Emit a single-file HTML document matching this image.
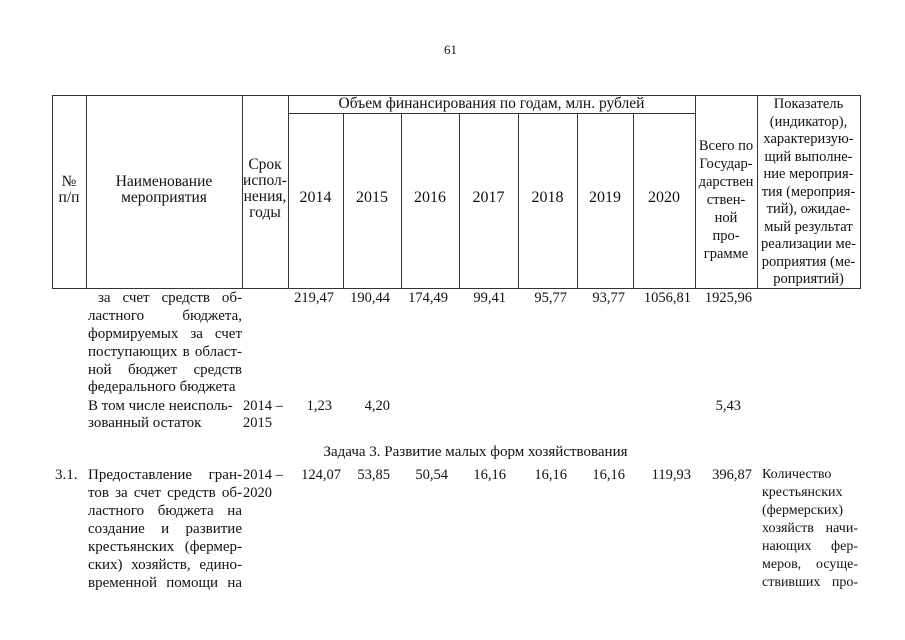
<!DOCTYPE html>
<html><head><meta charset="utf-8"><style>
body{margin:0;background:#fff;}
#p{position:relative;width:905px;height:640px;overflow:hidden;background:#fff;font-family:"Liberation Serif","DejaVu Serif",serif;font-size:15px;color:#111;}
.l{position:absolute;background:#333;}
.t{position:absolute;white-space:nowrap;line-height:16px;}
.c{text-align:center;}
.j{text-align:justify;text-align-last:justify;white-space:normal;}
.r{text-align:right;}
.n{font-size:14.5px;}
.h{font-size:15.5px;}
.y{font-size:16px;}
.k{font-size:14px;}
</style></head><body><div id="p">
<div class="t" style="left:444px;top:42px;font-size:13px">61</div>
<div class="l" style="left:52px;top:95px;width:808px;height:1px"></div>
<div class="l" style="left:288px;top:113px;width:407px;height:1px"></div>
<div class="l" style="left:52px;top:288px;width:808px;height:1px"></div>
<div class="l" style="left:52px;top:95px;width:1px;height:194px"></div>
<div class="l" style="left:86px;top:95px;width:1px;height:194px"></div>
<div class="l" style="left:242px;top:95px;width:1px;height:194px"></div>
<div class="l" style="left:288px;top:95px;width:1px;height:194px"></div>
<div class="l" style="left:343px;top:113px;width:1px;height:176px"></div>
<div class="l" style="left:401px;top:113px;width:1px;height:176px"></div>
<div class="l" style="left:459px;top:113px;width:1px;height:176px"></div>
<div class="l" style="left:518px;top:113px;width:1px;height:176px"></div>
<div class="l" style="left:577px;top:113px;width:1px;height:176px"></div>
<div class="l" style="left:633px;top:113px;width:1px;height:176px"></div>
<div class="l" style="left:695px;top:95px;width:1px;height:194px"></div>
<div class="l" style="left:757px;top:95px;width:1px;height:194px"></div>
<div class="l" style="left:860px;top:95px;width:1px;height:194px"></div>
<div class="t c h" style="left:52px;width:34px;top:174px">№</div>
<div class="t c h" style="left:52px;width:34px;top:190px">п/п</div>
<div class="t c h" style="left:86px;width:156px;top:174px">Наименование</div>
<div class="t c h" style="left:86px;width:156px;top:190px">мероприятия</div>
<div class="t c h" style="left:242px;width:46px;top:157px">Срок</div>
<div class="t c h" style="left:242px;width:46px;top:173px">испол-</div>
<div class="t c h" style="left:242px;width:46px;top:189px">нения,</div>
<div class="t c h" style="left:242px;width:46px;top:205px">годы</div>
<div class="t c h" style="left:288px;width:407px;top:96px">Объем финансирования по годам, млн. рублей</div>
<div class="t c y" style="left:288px;width:55px;top:190px">2014</div>
<div class="t c y" style="left:343px;width:58px;top:190px">2015</div>
<div class="t c y" style="left:401px;width:58px;top:190px">2016</div>
<div class="t c y" style="left:459px;width:59px;top:190px">2017</div>
<div class="t c y" style="left:518px;width:59px;top:190px">2018</div>
<div class="t c y" style="left:577px;width:56px;top:190px">2019</div>
<div class="t c y" style="left:633px;width:62px;top:190px">2020</div>
<div class="t c" style="left:695px;width:62px;top:137px;line-height:18px;font-size:14.5px">Всего по<br>Государ-<br>дарствен<br>ствен-<br>ной<br>про-<br>грамме</div>
<div class="t c" style="left:757px;width:103px;top:96px;line-height:17.5px;font-size:14.5px">Показатель<br>(индикатор),<br>характеризую-<br>щий выполне-<br>ние мероприя-<br>тия (мероприя-<br>тий), ожидае-<br>мый результат<br>реализации ме-<br>роприятия (ме-<br>роприятий)</div>
<div class="t j" style="left:98px;width:144px;top:290px">за счет средств об-</div>
<div class="t j" style="left:88px;width:154px;top:308px">ластного бюджета,</div>
<div class="t j" style="left:88px;width:154px;top:326px">формируемых за счет</div>
<div class="t j" style="left:88px;width:154px;top:344px">поступающих в област-</div>
<div class="t j" style="left:88px;width:154px;top:362px">ной бюджет средств</div>
<div class="t" style="left:88px;top:379px">федерального бюджета</div>
<div class="t r n" style="left:288px;width:46px;top:290px">219,47</div>
<div class="t r n" style="left:343px;width:47px;top:290px">190,44</div>
<div class="t r n" style="left:401px;width:47px;top:290px">174,49</div>
<div class="t r n" style="left:459px;width:47px;top:290px">99,41</div>
<div class="t r n" style="left:518px;width:49px;top:290px">95,77</div>
<div class="t r n" style="left:577px;width:48px;top:290px">93,77</div>
<div class="t r n" style="left:633px;width:58px;top:290px">1056,81</div>
<div class="t r n" style="left:695px;width:57px;top:290px">1925,96</div>
<div class="t" style="left:88px;top:398px">В том числе неисполь-</div>
<div class="t" style="left:88px;top:415px">зованный остаток</div>
<div class="t n" style="left:243px;top:398px">2014 –</div>
<div class="t n" style="left:243px;top:415px">2015</div>
<div class="t r n" style="left:288px;width:44px;top:398px">1,23</div>
<div class="t r n" style="left:343px;width:47px;top:398px">4,20</div>
<div class="t r n" style="left:695px;width:46px;top:398px">5,43</div>
<div class="t c" style="left:288px;width:375px;top:444px">Задача 3. Развитие малых форм хозяйствования</div>
<div class="t" style="left:55px;top:467px">3.1.</div>
<div class="t j" style="left:88px;width:154px;top:467px">Предоставление гран-</div>
<div class="t j" style="left:88px;width:154px;top:485px">тов за счет средств об-</div>
<div class="t j" style="left:88px;width:154px;top:503px">ластного бюджета на</div>
<div class="t j" style="left:88px;width:154px;top:521px">создание и развитие</div>
<div class="t j" style="left:88px;width:154px;top:539px">крестьянских (фермер-</div>
<div class="t j" style="left:88px;width:154px;top:557px">ских) хозяйств, едино-</div>
<div class="t j" style="left:88px;width:154px;top:575px">временной помощи на</div>
<div class="t n" style="left:243px;top:467px">2014 –</div>
<div class="t n" style="left:243px;top:485px">2020</div>
<div class="t r n" style="left:288px;width:53px;top:467px">124,07</div>
<div class="t r n" style="left:343px;width:47px;top:467px">53,85</div>
<div class="t r n" style="left:401px;width:47px;top:467px">50,54</div>
<div class="t r n" style="left:459px;width:47px;top:467px">16,16</div>
<div class="t r n" style="left:518px;width:49px;top:467px">16,16</div>
<div class="t r n" style="left:577px;width:48px;top:467px">16,16</div>
<div class="t r n" style="left:633px;width:58px;top:467px">119,93</div>
<div class="t r n" style="left:695px;width:57px;top:467px">396,87</div>
<div class="t k" style="left:762px;top:467px">Количество</div>
<div class="t k" style="left:762px;top:485px">крестьянских</div>
<div class="t k" style="left:762px;top:503px">(фермерских)</div>
<div class="t j k" style="left:762px;width:96px;top:521px">хозяйств начи-</div>
<div class="t j k" style="left:762px;width:96px;top:539px">нающих фер-</div>
<div class="t j k" style="left:762px;width:96px;top:557px">меров, осуще-</div>
<div class="t j k" style="left:762px;width:96px;top:575px">ствивших про-</div>
</div></body></html>
